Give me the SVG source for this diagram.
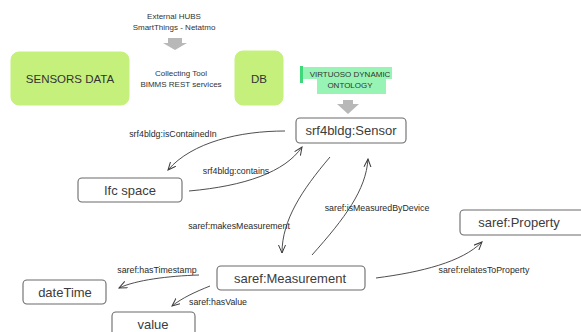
<svg xmlns="http://www.w3.org/2000/svg" width="581" height="332" viewBox="0 0 581 332">
<style>
.bg{fill:#ffffff}
.green{fill:#c6f07c;stroke:#c6f07c;stroke-width:1}
.node{fill:#ffffff;stroke:#6a6a6a;stroke-width:1.1}
.nt{font-family:"Liberation Sans",Arial,sans-serif;font-size:13px;fill:#3c3c3c;text-anchor:middle;dominant-baseline:central}
.big{font-family:"Liberation Sans",Arial,sans-serif;font-size:11.5px;fill:#333;text-anchor:middle;dominant-baseline:central}
.sm{font-family:"Liberation Sans",Arial,sans-serif;font-size:8px;fill:#333;text-anchor:middle;dominant-baseline:central}
.lbl{font-family:"Liberation Sans",Arial,sans-serif;font-size:8.8px;fill:#2a2a2a;text-anchor:middle;dominant-baseline:central}
.edge{fill:none;stroke:#3a3a3a;stroke-width:0.9;marker-end:url(#ah)}
.blk{fill:#b8b8b8}
.hl{fill:#86f2a8;opacity:0.85}
</style>
<defs>
<marker id="ah" markerWidth="9" markerHeight="8" refX="8" refY="4" orient="auto" markerUnits="userSpaceOnUse">
<path d="M0,0.5 L8,4 L0,7.5" fill="none" stroke="#3a3a3a" stroke-width="1"/>
</marker>
</defs>
<rect class="bg" x="0" y="0" width="581" height="332"/>

<g id="external-hubs">
<text class="sm" x="174" y="16">External HUBS</text>
<text class="sm" x="174" y="27">SmartThings - Netatmo</text>
</g>
<g id="arrow-top">
<path class="blk" d="M168,38 H182 V43 H187 L175,50 L163,43 H168 Z"/>
</g>

<g id="sensors-data">
<rect class="green" x="11" y="52" width="118" height="53" rx="8"/>
<text class="big" x="70" y="79">SENSORS DATA</text>
</g>

<g id="collecting-tool">
<text class="sm" x="181" y="73">Collecting Tool</text>
<text class="sm" x="181" y="84">BIMMS REST services</text>
</g>

<g id="db">
<rect class="green" x="235" y="51" width="48" height="54" rx="8"/>
<text class="big" x="259" y="79">DB</text>
</g>

<g id="virtuoso">
<rect class="hl" x="300" y="67" width="92" height="12"/>
<rect class="hl" x="317" y="79" width="69" height="15"/>
<rect x="300" y="66" width="3" height="17" fill="#3fd878"/>
<text class="sm" x="350" y="74">VIRTUOSO DYNAMIC</text>
<text class="sm" x="350" y="85">ONTOLOGY</text>
</g>
<g id="arrow-virtuoso">
<path class="blk" d="M343,100 H353 V104 H359 L348,114 L337,104 H343 Z"/>
</g>

<g id="sensor">
<rect class="node" x="296" y="118" width="110" height="25" rx="4"/>
<text class="nt" x="351" y="130">srf4bldg:Sensor</text>
</g>

<g id="ifc-space">
<rect class="node" x="78" y="178" width="104" height="24" rx="4"/>
<text class="nt" x="130" y="190">Ifc space</text>
</g>

<g id="measurement">
<rect class="node" x="217" y="266" width="148" height="24" rx="4"/>
<text class="nt" x="290" y="278">saref:Measurement</text>
</g>

<g id="property">
<rect class="node" x="460" y="210" width="130" height="25" rx="4"/>
<text class="nt" x="519" y="222">saref:Property</text>
</g>

<g id="datetime">
<rect class="node" x="23" y="280" width="83" height="24" rx="4"/>
<text class="nt" x="65" y="292">dateTime</text>
</g>

<g id="value">
<rect class="node" x="112" y="312" width="83" height="30" rx="4"/>
<text class="nt" x="153" y="324">value</text>
</g>

<g id="connectors">
<path class="edge" d="M285,131 C240,131 192,142 168,170"/>
<path class="edge" d="M189,191 C245,186 285,172 302,147"/>
<path class="edge" d="M330,157 C302,190 282,220 282,253"/>
<path class="edge" d="M312,255 C345,218 366,190 368,159"/>
<path class="edge" d="M376,278 C422,272 462,262 482,242"/>
<path class="edge" d="M199,275 C168,276 136,280 119,288"/>
<path class="edge" d="M210,286 C195,292 182,298 172,306"/>
<text class="lbl" x="173" y="134">srf4bldg:isContainedIn</text>
<text class="lbl" x="236" y="171">srf4bldg:contains</text>
<text class="lbl" x="239" y="226">saref:makesMeasurement</text>
<text class="lbl" x="377" y="208">saref:isMeasuredByDevice</text>
<text class="lbl" x="484" y="270">saref:relatesToProperty</text>
<text class="lbl" x="157" y="270">saref:hasTimestamp</text>
<text class="lbl" x="218" y="302">saref:hasValue</text>
</g>
</svg>
